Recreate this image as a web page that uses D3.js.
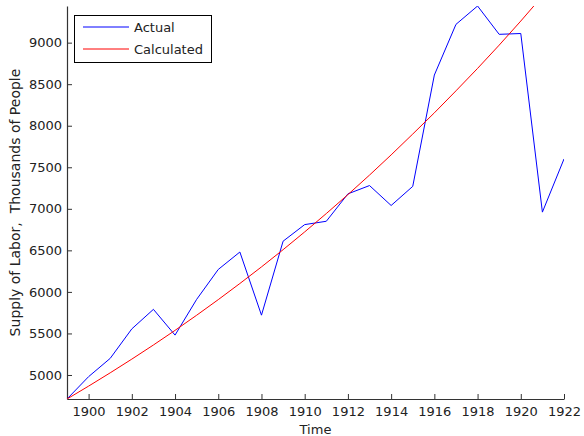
<!DOCTYPE html>
<html><head><meta charset="utf-8">
<script src="https://cdn.jsdelivr.net/npm/d3@7"></script>
<style>body{margin:0;background:#fff}svg{display:block}text{font-family:"DejaVu Sans",sans-serif;fill:#222}</style>
</head><body>
<script>
const years = [1899,1900,1901,1902,1903,1904,1905,1906,1907,1908,1909,1910,1911,1912,1913,1914,1915,1916,1917,1918,1919,1920,1921,1922];
const actual = [4711,4980,5200,5555,5790,5480,5910,6270,6480,5720,6610,6810,6850,7180,7280,7040,7270,8610,9220,9441,9100,9110,6960,7600];
const calculated = [4711,4866,5026,5191,5361,5537,5719,5907,6101,6301,6508,6722,6943,7171,7406,7649,7900,8155,8420,8690,8970,9260,9560,9870];
const xTicks = [1900,1902,1904,1906,1908,1910,1912,1914,1916,1918,1920,1922];
const yTicks = [5000,5500,6000,6500,7000,7500,8000,8500,9000];
const seriesNames = ["Actual","Calculated"];
const colors = ["#0000ff","#ff0000"];

const W=584,H=436, L=67, R=564, T=6, B=399;
const svg = d3.select("body").append("svg").attr("width",W).attr("height",H);
const x = d3.scaleLinear().domain([1899,1922]).range([L,R]);
const y = d3.scaleLinear().domain([4711,9441]).range([B,T]);

svg.append("defs").append("clipPath").attr("id","clip").append("rect")
  .attr("x",L).attr("y",T).attr("width",R-L).attr("height",B-T);

const gx = svg.append("g").attr("transform",`translate(0,${B})`)
  .call(d3.axisBottom(x).tickValues(xTicks).tickFormat(d3.format("d")).tickSizeInner(-5).tickSizeOuter(0).tickPadding(8));
const gy = svg.append("g").attr("transform",`translate(${L},0)`)
  .call(d3.axisLeft(y).tickValues(yTicks).tickFormat(d3.format("d")).tickSizeInner(-5).tickSizeOuter(0).tickPadding(5));
[gx,gy].forEach(g=>{
  g.selectAll("path").attr("stroke","#333").attr("stroke-width",1.2);
  g.selectAll("line").attr("stroke","#333");
  g.selectAll("text").attr("font-size",13).attr("font-family","DejaVu Sans").attr("fill","#222");
});

const line = d3.line().x((d,i)=>x(years[i])).y(d=>y(d));
const g = svg.append("g").attr("clip-path","url(#clip)");
[actual,calculated].forEach((s,k)=>{
  g.append("path").datum(s).attr("d",line).attr("fill","none").attr("stroke",colors[k]).attr("stroke-width",1);
});

svg.append("text").attr("x",(L+R)/2).attr("y",434).attr("text-anchor","middle").attr("font-size",13).text("Time");
svg.append("text").attr("transform",`translate(20,${(T+B)/2}) rotate(-90)`).attr("text-anchor","middle").attr("font-size",14)
  .attr("xml:space","preserve").text("Supply of Labor,  Thousands of People");

const lg = svg.append("g");
lg.append("rect").attr("x",74.5).attr("y",15.5).attr("width",137).attr("height",47).attr("fill","#fff").attr("stroke","#000");
seriesNames.forEach((n,k)=>{
  const yy = 27 + k*22;
  lg.append("line").attr("x1",83).attr("x2",129).attr("y1",yy).attr("y2",yy).attr("stroke",colors[k]).attr("stroke-width",1);
  lg.append("text").attr("x",134).attr("y",yy+4.5).attr("font-size",13).text(n);
});
</script>
</body></html>
